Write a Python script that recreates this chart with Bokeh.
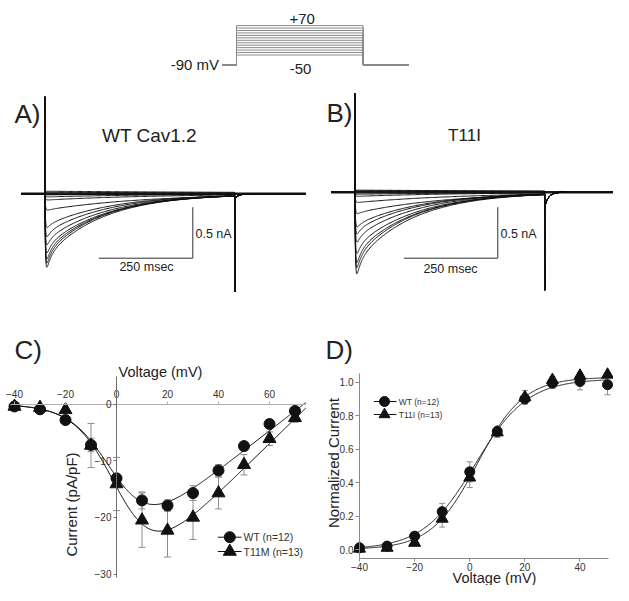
import numpy as np
from bokeh.plotting import figure
from bokeh.models import Range1d, LinearAxis, FixedTicker, PrintfTickFormatter, Label
from bokeh.layouts import column, row
from bokeh.embed import file_html
from bokeh.resources import INLINE

FONT = "Liberation Sans"

# ---------------- data ----------------
# voltage protocol (mV, ms)
PROTO_HOLD = -90
PROTO_STEPS = [-50, -40, -30, -20, -10, 0, 10, 20, 30, 40, 50, 60, 70]
PROTO_T = [-56, 0, 500, 680]

# current traces: peak (nA, negative = outward), fast-inactivation fraction, slow tau (ms)
A_PEAKS = [0.72, 0.68, 0.64, 0.58, 0.50, 0.42, 0.33, 0.16, 0.06, 0.03, 0.01, -0.015, -0.025]
A_FAST = [0.25, 0.25, 0.25, 0.22, 0.20, 0.20, 0.15, 0.05, 0.0, 0.0, 0.0, 0.0, 0.0]
A_TAU2 = [150, 150, 155, 160, 165, 170, 180, 260, 300, 300, 300, 900, 900]
B_PEAKS = [0.80, 0.74, 0.69, 0.60, 0.49, 0.41, 0.34, 0.21, 0.10, 0.04, 0.02, -0.015, -0.02]
B_FAST = [0.25, 0.25, 0.25, 0.22, 0.20, 0.20, 0.15, 0.08, 0.0, 0.0, 0.0, 0.0, 0.0]
B_TAU2 = [150, 150, 155, 160, 165, 170, 180, 240, 300, 300, 300, 900, 900]
A_CAP, B_CAP = 0.95, 0.965
A_TAIL, B_TAIL = 0.98, 0.96
A_TAIL_SLOW, B_TAIL_SLOW = 0.04, 0.12
TRACE_T = [-63, 0, 505, 697]
SCALE_T, SCALE_I = 250, 0.5

# C) I-V
IV_V = [-40, -30, -20, -10, 0, 10, 20, 30, 40, 50, 60, 70]
IV_WT = [-0.4, -0.9, -2.8, -7.2, -13.1, -17.0, -17.9, -15.7, -11.7, -7.4, -3.5, -1.2]
IV_WT_ERR = [0.3, 0.4, 0.5, 1.2, 0.7, 1.5, 1.0, 1.3, 1.0, 0.7, 0.5, 0.4]
IV_MUT = [-0.4, -0.6, -1.0, -7.3, -14.1, -20.5, -22.3, -20.0, -15.7, -10.7, -6.1, -2.4]
IV_MUT_ERR = [0.3, 0.4, 0.5, 3.9, 4.7, 4.8, 4.7, 3.9, 2.8, 1.8, 1.2, 0.8]
IV_FIT_WT = dict(g=0.35, vh=0.0, k=8.0, erev=73.4)
IV_FIT_MUT = dict(g=0.44, vh=2.0, k=8.0, erev=75.8)

# D) activation
ACT_V = [-40, -30, -20, -10, 0, 10, 20, 30, 40, 50]
ACT_WT = [0.01, 0.02, 0.08, 0.226, 0.464, 0.706, 0.90, 0.994, 1.004, 0.985]
ACT_WT_ERR = [0.005, 0.01, 0.015, 0.05, 0.06, 0.03, 0.03, 0.03, 0.05, 0.06]
ACT_MUT = [0.005, 0.01, 0.04, 0.184, 0.43, 0.70, 0.91, 1.013, 1.039, 1.045]
ACT_MUT_ERR = [0.005, 0.01, 0.015, 0.05, 0.06, 0.03, 0.04, 0.02, 0.02, 0.01]
ACT_FIT_WT = dict(a=1.02, vh=2.0, k=9.5)
ACT_FIT_MUT = dict(a=1.03, vh=2.8, k=8.4)


def base_fig(w, h, xr, yr):
    p = figure(width=w, height=h, x_range=Range1d(*xr), y_range=Range1d(*yr),
               toolbar_location=None, output_backend="svg",
               x_axis_location=None, y_axis_location=None, min_border=0)
    p.outline_line_color = None
    p.grid.visible = False
    return p


def lab(p, x, y, text, size, align="left", angle=0.0, color="#222"):
    p.add_layout(Label(x=x, y=y, text=text, text_font=FONT, text_font_size=f"{size}px",
                       text_align=align, text_baseline="middle", angle=angle,
                       text_color=color))

# ---------------- protocol ----------------
tP = lambda rx: (rx - 236) / 0.2533
vP = lambda ry: -50 + (54.5 - ry) / 0.245
top = base_fig(613, 78, (tP(0), tP(613)), (vP(78), vP(0)))
xs, ys = [], []
for v in PROTO_STEPS:
    xs.append([PROTO_T[0], PROTO_T[1], PROTO_T[1], PROTO_T[2], PROTO_T[2], PROTO_T[3]])
    ys.append([PROTO_HOLD, PROTO_HOLD, v, v, PROTO_HOLD, PROTO_HOLD])
top.multi_line(xs, ys, line_color="#8a8a8a", line_width=1)
lab(top, tP(301.7), vP(18.3), "+70", 15, "center")
lab(top, tP(300), vP(68.3), "-50", 15, "center")
lab(top, tP(218.5), vP(64.3), "-90 mV", 15, "right")


# ---------------- traces ----------------
def make_trace(peak, fast, tau2, cap, tail_peak, tail_slow):
    t_pre, t_on, t_off, t_post = TRACE_T
    ta = np.concatenate([np.linspace(0.6, 30, 80), np.linspace(31, t_off, 160)])
    shape = (1 - np.exp(-ta / 1.6)) * (fast * np.exp(-ta / 12) + (1 - fast) * np.exp(-ta / tau2))
    ia = -peak * shape / shape.max()
    tt = np.linspace(t_off + 2, t_off + 60, 40)
    it = -tail_slow * np.exp(-(tt - t_off - 2) / 10)
    t = [t_pre, t_on, t_on + 0.2, t_on + 0.45] + list(ta) + [t_off + 0.3] + list(tt) + [t_post]
    i = [0, 0, cap, 0] + list(ia) + [-tail_peak] + list(it) + [0]
    return t, i


def trace_panel(width, tmap, imap, x0, x1, peaks, fasts, taus, cap, tail, tail_slow,
                letter, letter_x, title, title_x, title_size, bar_corner, nA_x, ms_x, ms_y, letter_y):
    p = base_fig(width, 214, (tmap(x0), tmap(x1)), (imap(292), imap(78)))
    xs, ys = [], []
    for pk, f, tau in zip(peaks, fasts, taus):
        t, i = make_trace(pk, f, tau, cap, tail, tail_slow)
        xs.append(t)
        ys.append(i)
    p.line([TRACE_T[0], TRACE_T[3]], [0, 0], line_color="#1a1a1a", line_width=2.5)
    p.multi_line(xs, ys, line_color="#111111", line_width=1)
    cx, cy = bar_corner
    p.line([cx - SCALE_T, cx, cx], [cy, cy, cy + SCALE_I], line_color="#333333", line_width=1)
    lab(p, tmap(nA_x), imap(233.3), "0.5 nA", 12.5)
    lab(p, tmap(ms_x), imap(ms_y), "250 msec", 12.5, "center")
    lab(p, tmap(title_x), imap(135), title, title_size, "center")
    lab(p, tmap(letter_x), imap(letter_y), letter, 26)
    return p

tA = lambda rx: (rx - 44.3) / 0.376
iA = lambda ry: (193.3 - ry) / 102
tB = lambda rx: (rx - 354.3) / 0.376
iB = lambda ry: (191.7 - ry) / 102

pa = trace_panel(306, tA, iA, 0, 306, A_PEAKS, A_FAST, A_TAU2, A_CAP, A_TAIL, A_TAIL_SLOW,
                 "A)", 14, "WT Cav1.2", 149, 19, (tA(192.3), iA(257.7)), 195, 146, 266.7, 113)
pb = trace_panel(307, tB, iB, 306, 613, B_PEAKS, B_FAST, B_TAU2, B_CAP, B_TAIL, B_TAIL_SLOW,
                 "B)", 326, "T11I", 464, 17, (tB(497.3), iB(257.7)), 500, 450, 268.7, 112.5)


# ---------------- C) I-V ----------------
def errbars(p, x, y, e, cap, color="#8c8c8c"):
    x = np.asarray(x, float); y = np.asarray(y, float); e = np.asarray(e, float)
    p.segment(x, y - e, x, y + e, line_color=color, line_width=1)
    p.scatter(np.concatenate([x, x]), np.concatenate([y - e, y + e]), marker="dash",
              size=cap, line_color=color, line_width=1)

vC = lambda rx: (rx - 116) / 2.55
iC = lambda ry: (403.7 - ry) / 5.66
pc = base_fig(306, 293, (vC(0), vC(306)), (iC(585), iC(292)))
vv = np.linspace(-41.5, 74.5, 300)
for fp in (IV_FIT_WT, IV_FIT_MUT):
    pc.line(vv, fp["g"] * (vv - fp["erev"]) / (1 + np.exp((fp["vh"] - vv) / fp["k"])),
            line_color="#111111", line_width=1)
errbars(pc, IV_V, IV_WT, IV_WT_ERR, 7)
errbars(pc, IV_V, IV_MUT, IV_MUT_ERR, 7)
pc.scatter(IV_V, IV_MUT, marker="triangle", size=13, fill_color="#111111", line_color="#111111")
pc.scatter(IV_V, IV_WT, marker="circle", size=11, fill_color="#111111", line_color="#111111")

axc = dict(major_label_text_font=FONT, major_label_text_font_size="10px",
           major_label_text_color="#333333", minor_tick_line_color=None,
           major_tick_in=0, major_tick_out=3)
cx_axis = LinearAxis(fixed_location=0, ticker=FixedTicker(ticks=[-40, -20, 0, 20, 40, 60]),
                     bounds=(-41.5, 74.9), axis_line_color="#b0b0b0",
                     major_tick_line_color="#b0b0b0", major_label_standoff=3, **axc)
pc.add_layout(cx_axis, "above")
cy_axis = LinearAxis(fixed_location=0, ticker=FixedTicker(ticks=[-30, -20, -10, 0]),
                     bounds=(-30.6, 4.9), axis_line_color="#707070",
                     major_tick_line_color="#707070", major_label_standoff=2, **axc)
pc.add_layout(cy_axis, "left")
lab(pc, vC(14), iC(349), "C)", 26)
lab(pc, vC(160), iC(371.5), "Voltage (mV)", 14.5, "center")
lab(pc, vC(70.5), iC(504), "Current (pA/pF)", 15, "center", angle=np.pi / 2)
# legend
for ry, mk, sz, txt in ((536.7, "circle", 11, "WT (n=12)"), (551, "triangle", 13, "T11M (n=13)")):
    pc.line([vC(217.3), vC(241)], [iC(ry), iC(ry)], line_color="#111111", line_width=1)
    pc.scatter([vC(229.3)], [iC(ry)], marker=mk, size=sz, fill_color="#111111", line_color="#111111")
    lab(pc, vC(243), iC(ry), txt, 10.5, color="#333333")

# ---------------- D) activation ----------------
vD = lambda rx: -40 + (rx - 359) / 2.756
nD = lambda ry: (549 - ry) / 167.3
pd_ = base_fig(307, 293, (vD(306), vD(613)), (nD(585), nD(292)))
va = np.linspace(-40, 50, 300)
for fp in (ACT_FIT_WT, ACT_FIT_MUT):
    pd_.line(va, fp["a"] / (1 + np.exp((fp["vh"] - va) / fp["k"])), line_color="#222222", line_width=1)
errbars(pd_, ACT_V, ACT_WT, ACT_WT_ERR, 6)
errbars(pd_, ACT_V, ACT_MUT, ACT_MUT_ERR, 6)
pd_.scatter(ACT_V, ACT_MUT, marker="triangle", size=12, fill_color="#111111", line_color="#111111")
pd_.scatter(ACT_V, ACT_WT, marker="circle", size=10, fill_color="#111111", line_color="#111111")
axd = dict(major_label_text_font=FONT, major_label_text_font_size="10px",
           major_label_text_color="#333333", minor_tick_line_color=None,
           major_tick_in=0, axis_line_color="#8a8a8a", major_tick_line_color="#8a8a8a")
dx_axis = LinearAxis(fixed_location=-0.052, ticker=FixedTicker(ticks=[-40, -20, 0, 20, 40]),
                     bounds=(-40, 50.5), major_tick_out=3, major_label_standoff=2, **axd)
pd_.add_layout(dx_axis, "below")
dy_axis = LinearAxis(fixed_location=-40, ticker=FixedTicker(ticks=[0, 0.2, 0.4, 0.6, 0.8, 1.0]),
                     bounds=(-0.052, 1.05), major_tick_out=4, major_label_standoff=2,
                     formatter=PrintfTickFormatter(format="%.1f"), **axd)
pd_.add_layout(dy_axis, "left")
lab(pd_, vD(325), nD(349), "D)", 26)
lab(pd_, vD(494), nD(577), "Voltage (mV)", 14.5, "center")
lab(pd_, vD(333), nD(462.5), "Normalized Current", 15, "center", angle=np.pi / 2)
for ry, mk, sz, txt in ((401, "circle", 10, "WT (n=12)"), (414, "triangle", 11, "T11I (n=13)")):
    pd_.line([vD(373.3), vD(396)], [nD(ry), nD(ry)], line_color="#111111", line_width=1)
    pd_.scatter([vD(384)], [nD(ry)], marker=mk, size=sz, fill_color="#111111", line_color="#111111")
    lab(pd_, vD(398.3), nD(ry), txt, 8.5, color="#333333")

layout = column(top, row(pa, pb), row(pc, pd_))
open("out.html", "w").write(file_html(layout, INLINE))
